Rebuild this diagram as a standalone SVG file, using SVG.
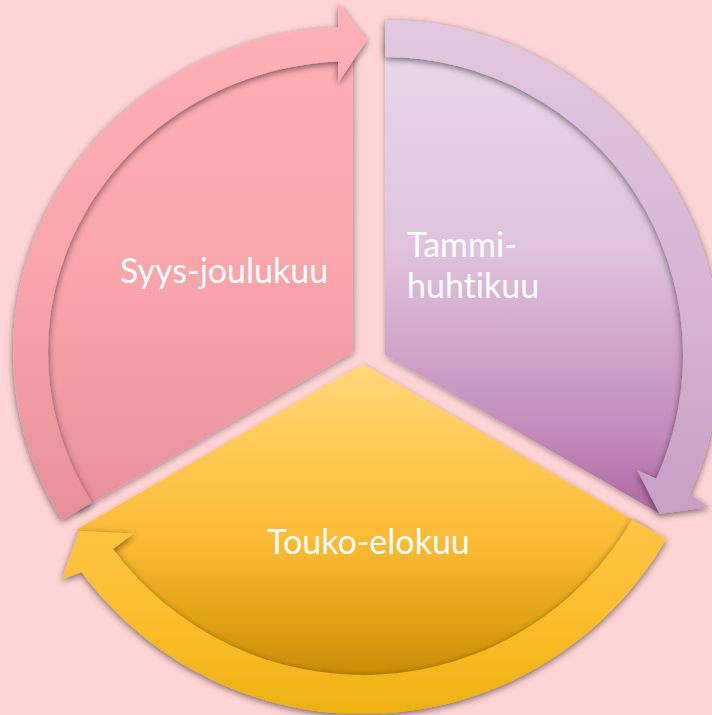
<svg xmlns="http://www.w3.org/2000/svg" width="712" height="715" viewBox="0 0 712 715">
  <style>
    .lbl { font-family: Lato, "Open Sans", "Liberation Sans", sans-serif; font-size: 34px; fill: #FFFFFF; font-variant-ligatures: none; }
  </style>
  <defs>
    <filter id="sh" x="-15%" y="-15%" width="130%" height="130%">
      <feGaussianBlur in="SourceAlpha" stdDeviation="3.5"/>
      <feOffset dx="0" dy="2" result="b"/>
      <feComponentTransfer><feFuncA type="linear" slope="0.55"/></feComponentTransfer>
      <feMerge><feMergeNode/><feMergeNode in="SourceGraphic"/></feMerge>
    </filter>
    <filter id="shp" x="-15%" y="-15%" width="130%" height="130%">
      <feGaussianBlur in="SourceAlpha" stdDeviation="3"/>
      <feOffset dx="1" dy="2"/>
      <feComponentTransfer><feFuncA type="linear" slope="0.35"/></feComponentTransfer>
      <feMerge><feMergeNode/><feMergeNode in="SourceGraphic"/></feMerge>
    </filter>
    <linearGradient id="gPink" gradientUnits="userSpaceOnUse" x1="0" y1="20" x2="0" y2="520">
      <stop offset="0" stop-color="#FFB1B5"/>
      <stop offset="0.5" stop-color="#F9A5AA"/>
      <stop offset="1" stop-color="#E7909A"/>
    </linearGradient>
    <linearGradient id="gPurp" gradientUnits="userSpaceOnUse" x1="0" y1="40" x2="0" y2="515">
      <stop offset="0" stop-color="#E9D7E9"/>
      <stop offset="0.45" stop-color="#E0C2DD"/>
      <stop offset="0.62" stop-color="#D2A8CD"/>
      <stop offset="0.82" stop-color="#C38DBD"/>
      <stop offset="1" stop-color="#AD67A4"/>
    </linearGradient>
    <linearGradient id="gPurpBand" gradientUnits="userSpaceOnUse" x1="0" y1="20" x2="0" y2="515">
      <stop offset="0" stop-color="#E2C8E1"/>
      <stop offset="0.6" stop-color="#D6B2D3"/>
      <stop offset="1" stop-color="#C6A0C5"/>
    </linearGradient>
    <linearGradient id="gYel" gradientUnits="userSpaceOnUse" x1="0" y1="364" x2="0" y2="680">
      <stop offset="0" stop-color="#FFD87A"/>
      <stop offset="0.3" stop-color="#FFC94F"/>
      <stop offset="0.55" stop-color="#FCBB36"/>
      <stop offset="0.8" stop-color="#E2A417"/>
      <stop offset="1" stop-color="#C88903"/>
    </linearGradient>
    <linearGradient id="gYelBand" gradientUnits="userSpaceOnUse" x1="0" y1="520" x2="0" y2="712">
      <stop offset="0" stop-color="#FEC545"/>
      <stop offset="0.5" stop-color="#FBBE2C"/>
      <stop offset="1" stop-color="#EDB210"/>
    </linearGradient>
  </defs>

  <rect x="0" y="0" width="712" height="715" fill="#FED5D6"/>

  <g id="node-syys">
    <path d="M353,352 L77,511.4 A322.5 308 0 0 1 353,44 Z" fill="url(#gPink)" filter="url(#shp)"/>
    <text class="lbl" x="120" y="283">Syys-joulukuu</text>
  </g>

  <g id="node-tammi">
    <path d="M385,355 L385,38.5 A316.5 316.5 0 0 1 659.1,513.3 Z" fill="url(#gPurp)" filter="url(#shp)"/>
    <text class="lbl" x="407" y="257">Tammi-</text>
    <text class="lbl" x="407" y="298">huhtikuu</text>
  </g>

  <g id="node-touko">
    <path d="M363,364 L649.2,529.3 A330.5 330.5 0 0 1 76.8,529.3 Z" fill="url(#gYel)" filter="url(#shp)"/>
    <text class="lbl" x="267" y="554">Touko-elokuu</text>
  </g>

  <g id="connectors" filter="url(#sh)">
    <path id="arrow-syys" d="M62,520 A340 325 0 0 1 338,27.3 L338,3 L367,40 L338,83 L338,61.4 A305 291 0 0 0 92,502.6 Z" fill="url(#gPink)"/>
    <path id="arrow-tammi" d="M385,20 A335 335 0 0 1 689.9,493.9 L709,507 L659.5,514 L637.1,469.9 L656.2,478.6 A298 298 0 0 0 385,57 Z" fill="url(#gPurpBand)"/>
    <path id="arrow-touko" d="M666.1,539 A350 350 0 0 1 81.6,572.2 L62,579 L79,531 L134,533.5 L113,549 A311 311 0 0 0 632.3,519.5 Z" fill="url(#gYelBand)"/>
  </g>
</svg>
